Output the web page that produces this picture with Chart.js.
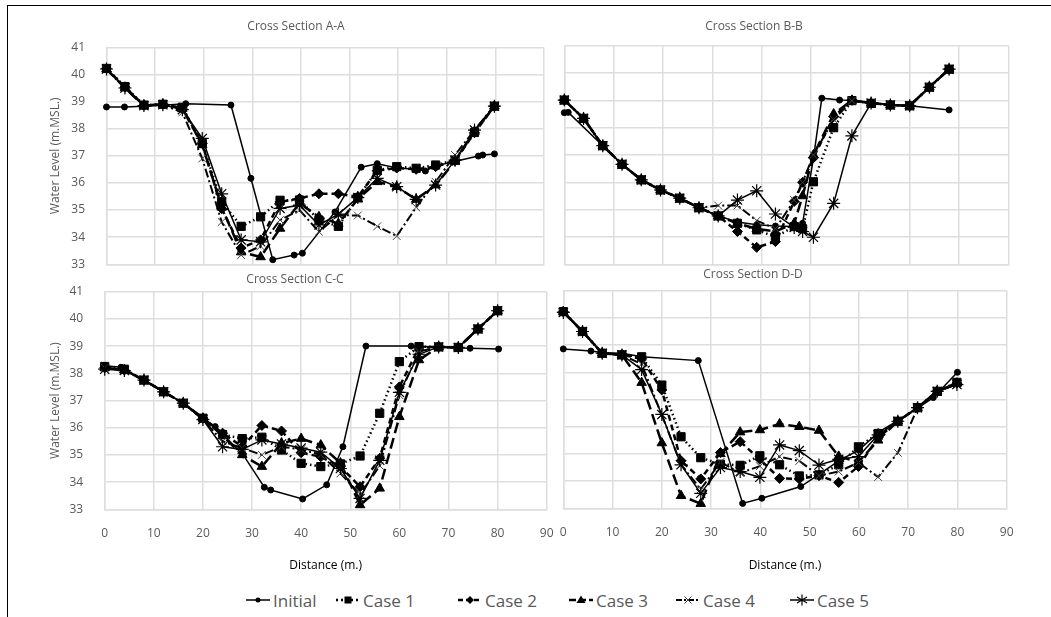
<!DOCTYPE html>
<html>
<head>
<meta charset="utf-8">
<script src="https://cdn.jsdelivr.net/npm/chart.js@4/dist/chart.umd.min.js"></script>
<style>
  html, body { margin: 0; padding: 0; background: #fff; }
  #wrap { position: relative; width: 1051px; height: 617px; overflow: hidden; background: #fff; font-family: "Open Sans", sans-serif; color: #595959; }
  #frame { position: absolute; left: 7px; top: 5px; width: 1100px; height: 700px; border: 1px solid #000; }
  canvas { position: absolute; }
  .ttl { position: absolute; font-size: 12px; transform: translate(-50%, -50%); white-space: nowrap; }
  #legend { position: absolute; top: 589px; left: 0; width: 1051px; height: 22px; font-size: 17px; }
  .item { position: absolute; top: 0; display: flex; align-items: center; height: 22px; }
  .item svg { margin-right: 3px; }
</style>
</head>
<body>
<div id="wrap">
  <div id="frame"></div>
  <canvas id="secA" width="560" height="275" style="left:0;top:0"></canvas>
  <canvas id="secB" width="496" height="275" style="left:555px;top:0"></canvas>
  <canvas id="secC" width="560" height="302" style="left:0;top:275px"></canvas>
  <canvas id="secD" width="496" height="302" style="left:555px;top:275px"></canvas>
  <div class="ttl" style="left:296px;top:25px">Cross Section A-A</div>
  <div class="ttl" style="left:754px;top:25px">Cross Section B-B</div>
  <div class="ttl" style="left:295px;top:278px">Cross Section C-C</div>
  <div class="ttl" style="left:753px;top:273px">Cross Section D-D</div>
  <div id="legend"></div>
</div>
<script>
const seriesNames = ['Initial', 'Case 1', 'Case 2', 'Case 3', 'Case 4', 'Case 5'];

// Cross Section A-A
const aInitX = [0, 3.7, 7.7, 11.6, 16.3, 25.6, 29.7, 34.2, 38.6, 40.3, 47, 52.4, 55.7, 59.8, 63.6, 65.6, 67.7, 71.8, 76.5, 77.4, 79.8];
const aInit = [38.8, 38.8, 38.83, 38.86, 38.92, 38.87, 36.17, 33.17, 33.34, 33.41, 34.93, 36.58, 36.71, 36.55, 36.5, 36.44, 36.63, 36.8, 36.99, 37.03, 37.07];
const aCaseX = [0, 3.8, 7.7, 11.6, 15.6, 19.7, 23.7, 27.7, 31.7, 35.7, 39.7, 43.7, 47.7, 51.7, 55.7, 59.7, 63.7, 67.7, 71.7, 75.7, 79.8];
const aCase1 = [40.22, 39.55, 38.87, 38.9, 38.79, 37.46, 35.3, 34.4, 34.75, 35.36, 35.37, 34.63, 34.4, 35.46, 36.47, 36.6, 36.54, 36.66, 36.84, 37.86, 38.83];
const aCase2 = [40.22, 39.53, 38.86, 38.9, 38.76, 37.45, 35.05, 33.6, 33.9, 35.3, 35.43, 35.6, 35.6, 35.49, 36.45, 36.55, 36.5, 36.6, 36.82, 37.85, 38.83];
const aCase3 = [40.2, 39.5, 38.85, 38.9, 38.74, 37.4, 35.1, 33.45, 33.27, 34.32, 35.25, 34.75, 34.5, 35.4, 36.04, 35.86, 35.39, 35.92, 36.8, 37.9, 38.83];
const aCase4 = [40.18, 39.5, 38.84, 38.88, 38.6, 36.9, 34.56, 33.34, 33.67, 34.63, 35.0, 34.2, 34.81, 34.8, 34.4, 34.04, 35.1, 36.04, 37.03, 37.95, 38.85];
const aCase5 = [40.2, 39.5, 38.85, 38.88, 38.7, 37.64, 35.6, 33.9, 33.83, 35.06, 35.18, 34.45, 34.85, 35.46, 36.17, 35.86, 35.39, 35.92, 36.84, 37.95, 38.83];

// Cross Section B-B
const bInitX = [0, 0.8, 7.8, 11.7, 15.6, 19.5, 23.4, 27.3, 31.2, 35.1, 39, 42.8, 46.6, 48.3, 50.5, 52.2, 55.8, 58.3, 62.2, 66.1, 70, 78];
const bInit = [38.55, 38.56, 37.34, 36.66, 36.09, 35.72, 35.42, 35.07, 34.77, 34.55, 34.45, 34.4, 34.38, 34.5, 36.88, 39.08, 39.01, 39.0, 38.92, 38.85, 38.8, 38.65];
const bCaseX = [0, 3.9, 7.8, 11.7, 15.6, 19.5, 23.4, 27.3, 31.2, 35.1, 39, 42.8, 46.6, 48.3, 50.5, 54.6, 58.3, 62.2, 66.1, 70, 74, 78];
const bCase1 = [39.01, 38.34, 37.34, 36.66, 36.09, 35.72, 35.42, 35.07, 34.77, 34.5, 34.26, 34.0, 34.38, 34.3, 36.02, 38.0, 38.99, 38.89, 38.83, 38.8, 39.48, 40.14];
const bCase2 = [39.01, 38.34, 37.34, 36.66, 36.09, 35.72, 35.42, 35.07, 34.77, 34.2, 33.62, 33.83, 35.3, 36.0, 36.9, 38.4, 39.0, 38.9, 38.83, 38.8, 39.48, 40.14];
const bCase3 = [39.01, 38.34, 37.34, 36.66, 36.09, 35.72, 35.42, 35.07, 34.77, 34.5, 34.3, 34.2, 34.5, 35.5, 37.0, 38.5, 39.0, 38.9, 38.83, 38.8, 39.48, 40.14];
const bCase4 = [39.01, 38.34, 37.34, 36.66, 36.09, 35.72, 35.42, 35.07, 35.15, 35.15, 34.6, 34.3, 35.35, 36.0, 37.0, 38.3, 38.99, 38.9, 38.83, 38.8, 39.48, 40.14];
const bCase5 = [39.01, 38.34, 37.34, 36.66, 36.09, 35.72, 35.42, 35.07, 34.77, 35.35, 35.69, 34.84, 34.35, 34.2, 33.99, 35.23, 37.7, 38.9, 38.83, 38.8, 39.48, 40.14];

// Cross Section C-C
const cInitX = [0, 3.3, 8, 12, 16, 20, 22.5, 28.2, 32.5, 33.8, 40.3, 45.2, 48.5, 53.2, 62.4, 68.1, 74.4, 80.2];
const cInit = [38.28, 38.22, 37.75, 37.32, 36.9, 36.35, 36.04, 35.0, 33.81, 33.71, 33.38, 33.9, 35.3, 39.0, 39.0, 38.96, 38.92, 38.89];
const cCaseX = [0, 4, 8, 12, 16, 20, 24, 28, 32, 36, 40, 44, 48, 52, 56, 60, 64, 68, 72, 76, 80];
const cCase1 = [38.25, 38.15, 37.75, 37.32, 36.9, 36.35, 35.75, 35.6, 35.65, 35.18, 34.69, 34.57, 34.67, 34.96, 36.53, 38.43, 38.98, 38.97, 38.95, 39.63, 40.3];
const cCase2 = [38.2, 38.12, 37.75, 37.32, 36.9, 36.35, 35.8, 35.3, 36.08, 35.88, 35.08, 34.93, 34.57, 33.83, 34.88, 37.5, 38.95, 38.97, 38.95, 39.63, 40.3];
const cCase3 = [38.2, 38.12, 37.75, 37.32, 36.9, 36.35, 35.7, 35.0, 34.57, 35.43, 35.6, 35.36, 34.7, 33.16, 33.77, 36.4, 38.49, 38.97, 38.95, 39.63, 40.3];
const cCase4 = [38.2, 38.1, 37.75, 37.32, 36.9, 36.3, 35.5, 35.25, 35.0, 35.3, 35.2, 35.0, 34.32, 33.55, 34.6, 37.2, 38.8, 38.97, 38.95, 39.63, 40.3];
const cCase5 = [38.15, 38.1, 37.75, 37.32, 36.9, 36.3, 35.3, 35.2, 35.55, 35.4, 35.25, 35.1, 34.5, 33.4, 34.8, 37.3, 38.7, 38.97, 38.95, 39.63, 40.3];

// Cross Section D-D
const dInitX = [0, 5.6, 8.1, 11.9, 15.9, 27.4, 36.4, 40.3, 48.2, 52, 56.2, 60, 64, 67.8, 71.9, 75.1, 80];
const dInit = [38.86, 38.78, 38.72, 38.7, 38.57, 38.43, 33.18, 33.37, 33.8, 34.26, 34.78, 35.14, 35.8, 36.21, 36.68, 37.07, 38.0];
const dCaseX = [0, 3.9, 7.9, 11.9, 15.9, 20, 23.9, 27.9, 31.9, 35.9, 39.9, 43.9, 47.9, 51.9, 55.9, 59.9, 63.9, 67.9, 71.9, 75.9, 79.9];
const dCase1 = [40.23, 39.5, 38.7, 38.64, 38.57, 37.53, 35.63, 34.86, 34.62, 34.58, 34.93, 34.6, 34.19, 34.23, 34.6, 35.26, 35.75, 36.2, 36.7, 37.3, 37.63];
const dCase2 = [40.23, 39.5, 38.7, 38.64, 38.5, 37.35, 34.75, 34.08, 35.05, 35.45, 34.8, 34.1, 34.08, 34.2, 33.95, 34.54, 35.6, 36.2, 36.7, 37.3, 37.6];
const dCase3 = [40.23, 39.5, 38.7, 38.64, 37.62, 35.4, 33.46, 33.17, 35.0, 35.8, 35.88, 36.1, 36.0, 35.86, 34.91, 34.7, 35.5, 36.2, 36.7, 37.3, 37.6];
const dCase4 = [40.2, 39.5, 38.7, 38.64, 38.3, 36.43, 34.6, 33.7, 34.7, 34.3, 34.55, 34.9, 34.74, 34.2, 34.35, 34.68, 34.15, 35.04, 36.68, 37.3, 37.55];
const dCase5 = [40.2, 39.5, 38.7, 38.64, 38.1, 36.45, 34.6, 33.55, 34.5, 34.35, 34.14, 35.33, 35.12, 34.59, 34.8, 34.9, 35.7, 36.2, 36.7, 37.3, 37.55];

const yTicks = [33, 34, 35, 36, 37, 38, 39, 40, 41];
const xTicks = [0, 10, 20, 30, 40, 50, 60, 70, 80, 90];

const textColor = '#595959';
const gridColor = '#dedede';

// line look of each series (Excel black & white styles)
const looks = [
  { borderWidth: 1.5, borderDash: [], pointStyle: 'circle', pointRadius: 3, pointBorderColor: '#000', pointBorderWidth: 1 },
  { borderWidth: 2.5, borderDash: [1.5, 3], pointStyle: 'rect', pointRadius: 5.8, pointBorderColor: '#000', pointBorderWidth: 1 },
  { borderWidth: 2.5, borderDash: [6, 4], pointStyle: 'rectRot', pointRadius: 5, pointBorderColor: '#000', pointBorderWidth: 1 },
  { borderWidth: 2.5, borderDash: [11, 5], pointStyle: 'triangle', pointRadius: 5.5, pointBorderColor: '#000', pointBorderWidth: 1 },
  { borderWidth: 2, borderDash: [9, 3, 2, 3], pointStyle: 'crossRot', pointRadius: 5.5, pointBorderColor: '#444', pointBorderWidth: 1 },
  { borderWidth: 1.5, borderDash: [], pointStyle: 'star', pointRadius: 6.5, pointBorderColor: '#000', pointBorderWidth: 1.2 }
];

function pairs(xs, ys) {
  return xs.map((x, i) => ({ x: x, y: ys[i] }));
}

function buildSets(initX, init, caseX, cases) {
  const all = [pairs(initX, init)].concat(cases.map(c => pairs(caseX, c)));
  return all.map((pts, i) => Object.assign({
    label: seriesNames[i],
    data: pts,
    borderColor: '#000',
    backgroundColor: '#000',
    pointBackgroundColor: '#000',
    tension: 0,
    clip: false,
    order: 6 - i
  }, looks[i]));
}

// tick gaps are made with invisible tick marks so they do not widen the auto padding
function makeChart(id, sets, cfg) {
  return new Chart(document.getElementById(id), {
    type: 'line',
    data: { datasets: sets },
    options: {
      responsive: false,
      animation: false,
      events: [],
      layout: { padding: cfg.padding },
      plugins: { legend: { display: false }, tooltip: { enabled: false } },
      scales: {
        x: {
          type: 'linear',
          min: 0,
          max: 90,
          afterBuildTicks: s => { s.ticks = xTicks.map(v => ({ value: v })); },
          ticks: { display: cfg.showX, padding: 0, color: textColor, font: { family: 'Open Sans', size: 12 } },
          grid: { color: gridColor, lineWidth: 1.5, drawTicks: cfg.showX, tickLength: 17.5, tickColor: 'rgba(0,0,0,0)' },
          border: { color: gridColor, width: 1.5 },
          title: { display: cfg.showX, text: 'Distance (m.)', color: '#000', font: { family: 'Open Sans', size: 12 }, padding: 4 },
          afterFit: s => { s.height = cfg.xHeight; }
        },
        y: {
          min: 33,
          max: 41,
          afterBuildTicks: s => { s.ticks = yTicks.map(v => ({ value: v })); },
          ticks: { display: cfg.showY, padding: 0, color: textColor, font: { family: 'Open Sans', size: 12 } },
          grid: { color: gridColor, lineWidth: 1.5, drawTicks: cfg.showY, tickLength: 21.5, tickColor: 'rgba(0,0,0,0)' },
          border: { color: gridColor, width: 1.5 },
          title: { display: cfg.showY, text: 'Water Level (m.MSL.)', color: textColor, font: { family: 'Open Sans', size: 12 }, padding: 4 },
          afterFit: s => { s.width = cfg.yWidth; }
        }
      }
    }
  });
}

makeChart('secA', buildSets(aInitX, aInit, aCaseX, [aCase1, aCase2, aCase3, aCase4, aCase5]),
  { showX: false, showY: true, xHeight: 0, yWidth: 62.5, padding: { left: 44, top: 47.3, right: 16, bottom: 10.7 } });
makeChart('secB', buildSets(bInitX, bInit, bCaseX, [bCase1, bCase2, bCase3, bCase4, bCase5]),
  { showX: false, showY: false, xHeight: 0, yWidth: 0, padding: { left: 9.3, top: 45.7, right: 42.7, bottom: 10.7 } });
makeChart('secC', buildSets(cInitX, cInit, cCaseX, [cCase1, cCase2, cCase3, cCase4, cCase5]),
  { showX: true, showY: true, xHeight: 67.7, yWidth: 60.7, padding: { left: 44, top: 16.7, right: 13.3, bottom: 0 } });
makeChart('secD', buildSets(dInitX, dInit, dCaseX, [dCase1, dCase2, dCase3, dCase4, dCase5]),
  { showX: true, showY: false, xHeight: 68.7, yWidth: 0, padding: { left: 8.3, top: 15.7, right: 44.3, bottom: 0 } });

// legend: small line sample + marker, then the name
const legendLeft = [246, 336, 458, 569, 676, 790];
const markerSvg = [
  '<circle cx="12" cy="11" r="2.5" fill="#000"/>',
  '<rect x="8.5" y="7.5" width="7" height="7" fill="#000"/>',
  '<polygon points="12,7 16,11 12,15 8,11" fill="#000"/>',
  '<polygon points="12,6.5 16.5,14 7.5,14" fill="#000"/>',
  '<path d="M8.5 7.5 L15.5 14.5 M15.5 7.5 L8.5 14.5" stroke="#444" stroke-width="1"/>',
  '<path d="M12 5.5 L12 16.5 M7 8 L17 14 M17 8 L7 14" stroke="#000" stroke-width="1.2"/>'
];
const legendDash = ['', '2,3', '5,3', '7,3', '6,2,2,2', ''];
const legendWidth = [1.5, 2.5, 2.5, 2.5, 2, 1.5];
const legend = document.getElementById('legend');
seriesNames.forEach((name, i) => {
  const item = document.createElement('div');
  item.className = 'item';
  item.style.left = legendLeft[i] + 'px';
  item.innerHTML = '<svg width="24" height="22"><line x1="0" y1="11" x2="24" y2="11" stroke="#000" stroke-width="' +
    legendWidth[i] + '"' + (legendDash[i] ? ' stroke-dasharray="' + legendDash[i] + '"' : '') + '/>' +
    markerSvg[i] + '</svg><span>' + name + '</span>';
  legend.appendChild(item);
});
</script>
</body>
</html>
